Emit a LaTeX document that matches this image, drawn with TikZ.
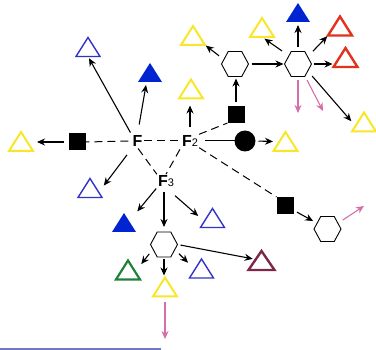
\documentclass[tikz,border=0pt]{standalone}
\usepackage{fontspec}
\setmainfont{Liberation Sans}
\usetikzlibrary{arrows.meta,calc}
\definecolor{ylw}{RGB}{248,230,40}
\definecolor{bluo}{RGB}{50,50,200}
\definecolor{bluf}{RGB}{0,36,210}
\definecolor{redt}{RGB}{225,50,30}
\definecolor{grnt}{RGB}{30,130,60}
\definecolor{mart}{RGB}{125,40,75}
\definecolor{pnk}{RGB}{215,110,170}
\definecolor{rulec}{RGB}{110,120,190}
\newcommand\tridraw[2]{\draw[#2,line join=miter] (#1.south west) -- (#1.north) -- (#1.south east) -- cycle;}
\newcommand\trifill[2]{\fill[#2] (#1.south west) -- (#1.north) -- (#1.south east) -- cycle;}
\newcommand\hexdraw[1]{\draw[fill=white,line width=0.9pt] (#1.west) -- ($(#1.north west)!0.25!(#1.north east)$) -- ($(#1.north west)!0.75!(#1.north east)$) -- (#1.east) -- ($(#1.south west)!0.75!(#1.south east)$) -- ($(#1.south west)!0.25!(#1.south east)$) -- cycle;}
\begin{document}
\begin{tikzpicture}[x=1pt,y=-1pt,
  tri/.style={inner sep=0pt,outer sep=0pt,minimum width=24pt,minimum height=19pt},
  hexn/.style={inner sep=0pt,outer sep=0pt,minimum width=27pt,minimum height=25pt},
  sq/.style={fill=black,inner sep=0pt,outer sep=0pt,minimum size=17pt},
  dot/.style={circle,fill=black,inner sep=0pt,outer sep=0pt,minimum size=21pt},
  lbl/.style={inner sep=1pt,font=\fontsize{16}{16}\selectfont\bfseries},
  arr/.style={-{Stealth[length=8pt,width=7pt]}, line width=1.1pt},
  parr/.style={-{Stealth[length=8pt,width=7pt]}, draw=pnk, line width=1.1pt},
  dsh/.style={dash pattern=on 8pt off 5pt, line width=1pt},
  ytri/.style={draw=ylw,line width=2pt},
  btri/.style={draw=bluo,line width=1.4pt},
  rtri/.style={draw=redt,line width=2.4pt},
  gtri/.style={draw=grnt,line width=2.2pt},
  mtri/.style={draw=mart,line width=2.4pt},
]
\useasboundingbox (0,0) rectangle (376,350);
% labels
\node[lbl] (F) at (137.5,141) {F};
\node[lbl] (F2) at (190,141) {F{\fontsize{11}{11}\selectfont\mdseries 2}};
\node[lbl] (F3) at (166,181) {F{\fontsize{11}{11}\selectfont\mdseries 3}};
% triangles
\node[tri] (yL) at (21,141.5) {};
\node[tri] (bTL) at (88,47) {};
\node[tri] (bF1) at (150,72.5) {};
\node[tri] (yA) at (191,89) {};
\node[tri] (yT) at (193,35.5) {};
\node[tri] (yH) at (262,27.5) {};
\node[tri] (bF2) at (298,12.5) {};
\node[tri] (r1) at (340,26) {};
\node[tri] (r2) at (345.5,57.5) {};
\node[tri] (yR) at (364,122) {};
\node[tri] (yC) at (285.5,141.5) {};
\node[tri] (bL) at (90,188) {};
\node[tri] (bF3) at (124,222.5) {};
\node[tri] (bR3) at (212.5,218) {};
\node[tri] (g) at (128,270) {};
\node[tri] (yB) at (165,287) {};
\node[tri] (bH) at (201.5,268.5) {};
\node[tri,minimum width=26pt] (m) at (261.5,260.5) {};
\tridraw{yL}{ytri}
\tridraw{bTL}{btri}
\trifill{bF1}{bluf}
\tridraw{yA}{ytri}
\tridraw{yT}{ytri}
\tridraw{yH}{ytri}
\trifill{bF2}{bluf}
\tridraw{r1}{rtri}
\tridraw{r2}{rtri}
\tridraw{yR}{ytri}
\tridraw{yC}{ytri}
\tridraw{bL}{btri}
\trifill{bF3}{bluf}
\tridraw{bR3}{btri}
\tridraw{g}{gtri}
\tridraw{yB}{ytri}
\tridraw{bH}{btri}
\tridraw{m}{mtri}
% squares, circle
\node[sq] (sqL) at (77,142) {};
\node[sq] (sqU) at (236,114.5) {};
\node[sq] (sqD) at (285,205.5) {};
\node[dot] (circ) at (245,141) {};
% hexagons
\node[hexn] (h1) at (235,64) {};
\node[hexn] (h2) at (298,64) {};
\node[hexn] (h3) at (327.5,229) {};
\node[hexn] (h4) at (164,244.5) {};
\hexdraw{h1}
\hexdraw{h2}
\hexdraw{h3}
\hexdraw{h4}
% free ends
\coordinate (p1) at (298,113);
\coordinate (p2) at (323,111);
\coordinate (p3) at (364,206);
\coordinate (p4) at (165,339);
% connectors from F
\draw[dsh, shorten <=3pt] (F.west) -- (sqL.east);
\draw[arr, shorten <=5pt, shorten >=4pt] (sqL.west) -- (sqL.west -| yL.east);
\draw[arr, shorten <=2pt, shorten >=2pt] (F.north west) -- (bTL.south);
\draw[arr, shorten <=10pt, shorten >=3pt] (F.north) -- (bF1.250);
\draw[arr, shorten <=9pt, shorten >=3pt] (F) -- (bL.east);
\draw[dsh] (F.east) -- (F2.west);
\draw[dsh, shorten <=1pt] (F.south) -- (F3.north west);
% connectors from F2
\draw[dsh, shorten <=2pt] (F2.south west) -- (F3.north);
\draw[arr, shorten <=7pt, shorten >=7pt] (F2.north) -- (F2.north |- yA.south);
\draw[dsh] (F2.north east) -- (sqU.south west);
\draw[line width=1pt, shorten <=6pt] (F2) -- (circ);
\draw[dsh] (F2.south east) -- (sqD.north west);
\draw[arr, shorten <=3pt, shorten >=0.5pt] (circ.east) -- (yC.west);
% upper right cluster
\draw[arr, shorten <=4pt, shorten >=2pt] (sqU.north) -- (sqU.north |- h1.south);
\draw[arr, shorten <=3pt, shorten >=1pt] (h1.155) -- (yT.south east);
\draw[arr, shorten <=3pt, shorten >=1pt] (h1.east) -- (h2.west);
\draw[arr, shorten <=3pt, shorten >=3pt] (h2.140) -- (yH.south);
\draw[arr, shorten <=4pt, shorten >=3pt] (h2.north) -- (bF2.south);
\draw[arr, shorten <=2pt, shorten >=1pt] (h2.40) -- (r1.south west);
\draw[arr, shorten <=2pt, shorten >=1pt] (h2.east) -- (h2.east -| r2.west);
\draw[arr, shorten <=1pt, shorten >=1pt] (h2.-40) -- (yR.west);
\draw[parr, shorten <=4pt] (h2.south) -- (p1);
\draw[parr, shorten <=4pt] (h2.-60) -- (p2);
% lower right
\draw[arr, shorten <=4pt, shorten >=1pt] (sqD) -- (h3);
\draw[parr, shorten <=2pt] (h3.30) -- (p3);
% F3 cluster
\draw[arr, shorten <=1pt, shorten >=2pt] (F3.south west) -- (bF3.north east);
\draw[arr, shorten <=4pt, shorten >=5pt] (h4.north |- F3.south) -- (h4.north);
\draw[arr, shorten <=12pt, shorten >=3pt] (F3.south) -- (bR3.west);
\draw[arr, shorten <=2pt, shorten >=2pt] (h4.210) -- (g.20);
\draw[arr, shorten <=2pt, shorten >=2pt] (h4.south) -- (h4.south |- yB.north);
\draw[arr, shorten <=2pt, shorten >=2pt] (h4.-30) -- (bH.160);
\draw[arr, shorten <=3pt, shorten >=9pt] (h4.east) -- (m.center);
\draw[parr, shorten <=6pt] (yB.south) -- (p4);
% bottom rule
\draw[rulec, line width=1.5pt] (0,349) -- (161,349);
\end{tikzpicture}
\end{document}
